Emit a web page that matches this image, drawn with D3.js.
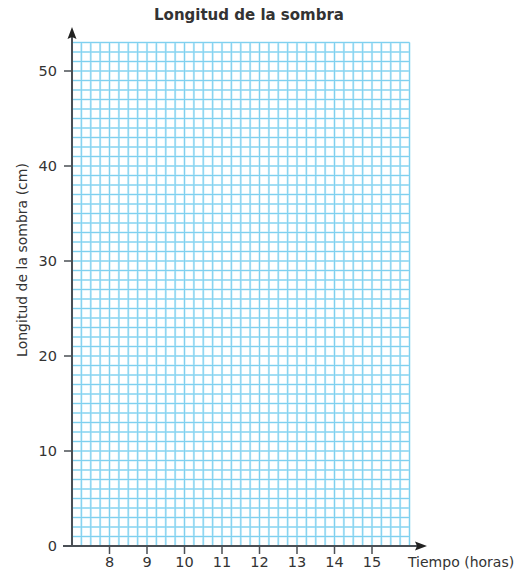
<!DOCTYPE html>
<html><head><meta charset="utf-8">
<script src="https://cdn.jsdelivr.net/npm/d3@7"></script>
<style>body{margin:0;background:#fff}svg{display:block}text{font-family:"DejaVu Sans","Noto Sans",sans-serif;fill:#333}</style>
</head><body><svg id="c" width="518" height="571"></svg>
<script>
const title = "Longitud de la sombra";
const xLabel = "Tiempo (horas)";
const yLabel = "Longitud de la sombra (cm)";
const xTicks = [8, 9, 10, 11, 12, 13, 14, 15];
const yTicks = [0, 10, 20, 30, 40, 50];
const xDomain = [7, 16];
const yDomain = [0, 53];
const xGridStep = 0.25;
const yGridStep = 1;

const svg = d3.select("#c");
const x = d3.scaleLinear().domain(xDomain).range([72, 409.5]);
const y = d3.scaleLinear().domain(yDomain).range([546, 42.5]);

const g = svg.append("g");
const xs = d3.range(xDomain[0], xDomain[1] + 1e-9, xGridStep);
const ys = d3.range(yDomain[0], yDomain[1] + 1e-9, yGridStep);
g.selectAll("line.vh").data(xs).join("line")
  .attr("x1", d => x(d)).attr("x2", d => x(d)).attr("y1", y(yDomain[1])).attr("y2", y(0))
  .attr("stroke", "#c8ecf9").attr("stroke-width", 2.2);
g.selectAll("line.hh").data(ys).join("line")
  .attr("y1", d => y(d)).attr("y2", d => y(d)).attr("x1", x(xDomain[0])).attr("x2", x(xDomain[1]))
  .attr("stroke", "#c8ecf9").attr("stroke-width", 2.2);
g.selectAll("line.v").data(xs).join("line")
  .attr("x1", d => x(d)).attr("x2", d => x(d)).attr("y1", y(yDomain[1])).attr("y2", y(0))
  .attr("stroke", "#7fd0ef").attr("stroke-width", 1);
g.selectAll("line.h").data(ys).join("line")
  .attr("y1", d => y(d)).attr("y2", d => y(d)).attr("x1", x(xDomain[0])).attr("x2", x(xDomain[1]))
  .attr("stroke", "#7fd0ef").attr("stroke-width", 1);

const axCol = "#4a4f55";
svg.append("line").attr("x1", 63).attr("x2", 418).attr("y1", y(0)).attr("y2", y(0))
  .attr("stroke", axCol).attr("stroke-width", 2);
svg.append("line").attr("x1", x(7)).attr("x2", x(7)).attr("y1", y(0) + 1).attr("y2", 36)
  .attr("stroke", axCol).attr("stroke-width", 2);
svg.append("path").attr("d", `M427,${y(0)} L415,${y(0)-4.5} L417,${y(0)} L415,${y(0)+4.5} Z`).attr("fill", "#222");
svg.append("path").attr("d", `M${x(7)},27 L${x(7)-4.5},39 L${x(7)},37 L${x(7)+4.5},39 Z`).attr("fill", "#222");

svg.selectAll("line.xt").data(xTicks).join("line")
  .attr("x1", d => x(d)).attr("x2", d => x(d)).attr("y1", y(0)).attr("y2", y(0) + 8)
  .attr("stroke", axCol).attr("stroke-width", 1.5);
svg.selectAll("text.xl").data(xTicks).join("text")
  .attr("x", d => x(d)).attr("y", 567).attr("text-anchor", "middle")
  .attr("font-size", 14.5).text(d => d);
svg.selectAll("line.yt").data(yTicks.filter(d => d > 0)).join("line")
  .attr("x1", 64).attr("x2", x(7)).attr("y1", d => y(d)).attr("y2", d => y(d))
  .attr("stroke", axCol).attr("stroke-width", 1.5);
svg.selectAll("text.yl").data(yTicks).join("text")
  .attr("x", 57).attr("y", d => y(d) + 5).attr("text-anchor", "end")
  .attr("font-size", 14.5).text(d => d);

svg.append("text").attr("x", 249).attr("y", 20).attr("text-anchor", "middle")
  .attr("font-size", 15).attr("font-weight", "bold").text(title);
svg.append("text").attr("x", 408).attr("y", 567).attr("font-size", 14).text(xLabel);
svg.append("text").attr("transform", "translate(27,260) rotate(-90)").attr("text-anchor", "middle")
  .attr("font-size", 14).text(yLabel);
</script></body></html>
